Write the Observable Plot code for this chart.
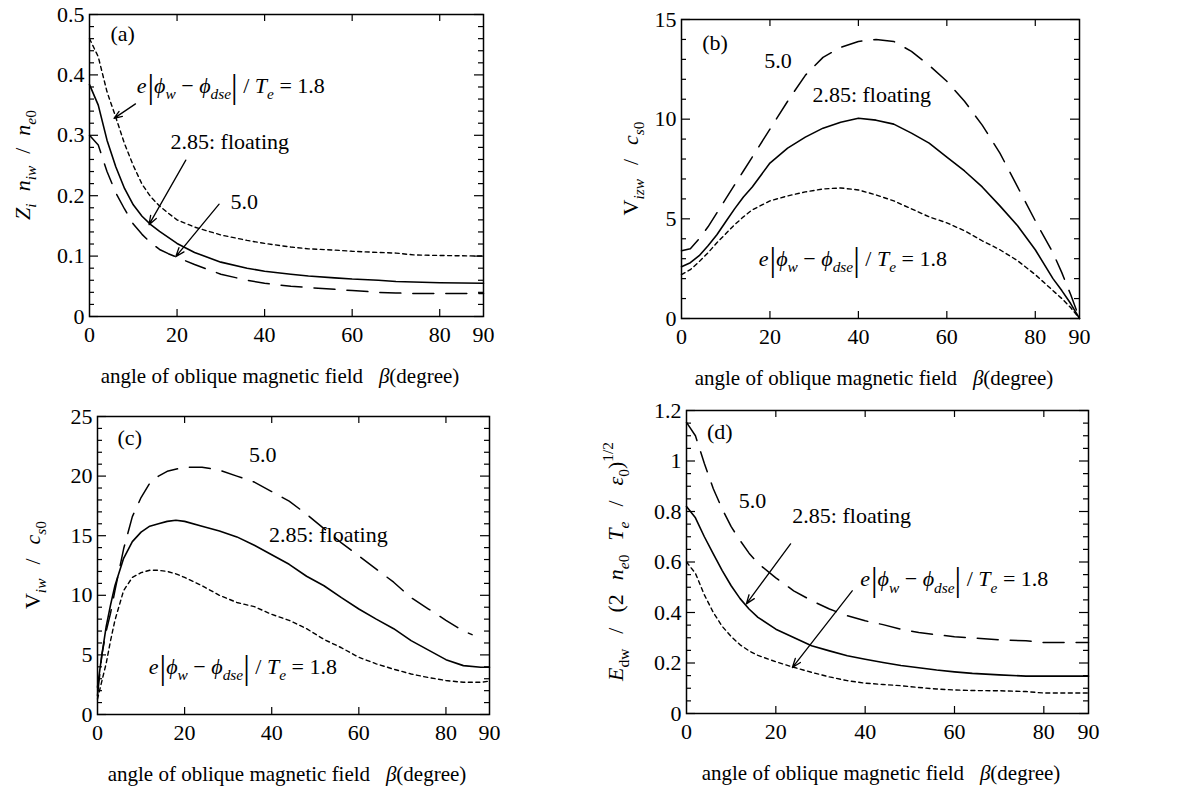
<!DOCTYPE html>
<html><head><meta charset="utf-8">
<script src="https://cdn.jsdelivr.net/npm/d3@7"></script>
<script src="https://cdn.jsdelivr.net/npm/@observablehq/plot@0.6"></script>
<style>
body{margin:0;background:#fff;}
#wrap{position:relative;width:1183px;height:796px;overflow:hidden;background:#fff;}
#wrap svg{position:absolute;}
#wrap svg text, #wrap svg tspan{font-family:"Liberation Serif","Tinos","Times New Roman","DejaVu Serif","Noto Serif",serif !important;}
</style></head><body><div id="wrap"></div>
<script>
// ---------- shared tick labels ----------
const xTickLabels = [0, 20, 40, 60, 80, 90];
const xInnerTicks = [20, 40, 60, 80];

// ---------- panel (a): Z_i n_iw / n_e0 ----------
const aX     = [0, 2, 4, 6, 8, 10, 12, 14, 16, 18, 20, 24, 30, 36, 40, 46, 50, 56, 60, 66, 70, 74, 80, 90];
const aFloat = [0.384, 0.350, 0.292, 0.248, 0.212, 0.185, 0.166, 0.152, 0.141, 0.131, 0.121, 0.106, 0.090, 0.080, 0.075, 0.070, 0.067, 0.064, 0.062, 0.060, 0.058, 0.057, 0.056, 0.055];
const aLow   = [0.460, 0.430, 0.372, 0.330, 0.286, 0.250, 0.219, 0.198, 0.183, 0.171, 0.160, 0.148, 0.135, 0.126, 0.121, 0.115, 0.112, 0.110, 0.108, 0.106, 0.105, 0.102, 0.101, 0.100];
const aHigh  = [0.300, 0.284, 0.240, 0.205, 0.178, 0.153, 0.136, 0.122, 0.111, 0.104, 0.098, 0.086, 0.070, 0.060, 0.055, 0.050, 0.048, 0.045, 0.043, 0.040, 0.039, 0.038, 0.038, 0.038];
const aYTicks = [0, 0.1, 0.2, 0.3, 0.4, 0.5];
const aNotes = [
  {x: 4.8, y: 0.468, text: "(a)"},
  {x: 18.5, y: 0.289, text: "2.85: floating"},
  {x: 32.2, y: 0.190, text: "5.0"}
];
const aArrows = [
  {x1: 10.5, y1: 0.352, x2: 5.6, y2: 0.328},
  {x1: 22.0, y1: 0.259, x2: 13.6, y2: 0.152},
  {x1: 29.6, y1: 0.186, x2: 19.7, y2: 0.099}
];
const aFormulaAt = {x: 10.9, y: 0.383};

// ---------- panel (b): V_izw / c_s0 ----------
const bX     = [0, 2, 4, 6, 8, 10, 12, 14, 16, 20, 24, 28, 32, 36, 40, 44, 48, 52, 56, 60, 64, 68, 72, 76, 80, 84, 86, 88, 90];
const bFloat = [2.6, 2.8, 3.15, 3.65, 4.2, 4.85, 5.5, 6.1, 6.6, 7.8, 8.55, 9.1, 9.55, 9.85, 10.05, 9.95, 9.75, 9.3, 8.8, 8.1, 7.4, 6.6, 5.65, 4.65, 3.45, 2.0, 1.4, 0.75, 0];
const bLow   = [2.2, 2.45, 2.85, 3.3, 3.8, 4.25, 4.7, 5.1, 5.45, 5.9, 6.15, 6.35, 6.5, 6.55, 6.45, 6.2, 5.9, 5.5, 5.1, 4.8, 4.4, 3.9, 3.45, 2.9, 2.2, 1.4, 1.0, 0.55, 0];
const bHigh  = [3.4, 3.5, 4.0, 4.6, 5.3, 6.0, 6.7, 7.4, 8.1, 9.5, 10.9, 12.2, 13.1, 13.6, 13.9, 14.0, 13.9, 13.4, 12.7, 11.9, 10.9, 9.7, 8.3, 6.6, 4.9, 3.3, 2.3, 1.2, 0];
const bYTicks = [0, 5, 10, 15];
const bNotes = [
  {x: 4.7, y: 13.8, text: "(b)"},
  {x: 18.7, y: 12.9, text: "5.0"},
  {x: 29.6, y: 11.2, text: "2.85: floating"}
];
const bArrows = [];
const bFormulaAt = {x: 17.6, y: 3.0};

// ---------- panel (c): V_iw / c_s0 ----------
const cX     = [0, 1, 2, 3, 4, 6, 8, 10, 12, 14, 16, 18, 20, 24, 28, 32, 36, 40, 44, 48, 52, 56, 60, 64, 68, 72, 76, 80, 84, 88, 90];
const cFloat = [2.3, 5.0, 7.4, 9.2, 10.8, 13.1, 14.5, 15.3, 15.8, 16.0, 16.2, 16.3, 16.2, 15.8, 15.4, 14.9, 14.2, 13.4, 12.6, 11.6, 10.8, 9.8, 8.85, 8.0, 7.2, 6.2, 5.4, 4.6, 4.1, 3.97, 3.97];
const cLow   = [1.3, 2.8, 4.3, 6.2, 7.9, 10.4, 11.5, 11.9, 12.1, 12.1, 12.0, 11.8, 11.5, 10.8, 10.0, 9.4, 9.05, 8.4, 7.9, 7.2, 6.3, 5.6, 4.8, 4.25, 3.8, 3.4, 3.1, 2.85, 2.7, 2.7, 2.8];
const cHighX = [0, 1, 2, 3, 4, 6, 8, 10, 12, 14, 16, 20, 24, 28, 32, 36, 40, 44, 48, 52, 56, 60, 64, 68, 72, 76, 80, 84, 86];
const cHigh  = [1.6, 5.0, 7.0, 8.5, 10.4, 13.9, 16.6, 18.2, 19.4, 20.0, 20.4, 20.75, 20.75, 20.5, 20.0, 19.5, 18.7, 17.9, 16.8, 15.6, 14.4, 13.3, 12.2, 11.1, 9.8, 8.85, 7.9, 7.0, 6.7];
const cYTicks = [0, 5, 10, 15, 20, 25];
const cNotes = [
  {x: 4.6, y: 23.2, text: "(c)"},
  {x: 34.8, y: 21.8, text: "5.0"},
  {x: 39.4, y: 15.1, text: "2.85: floating"}
];
const cArrows = [];
const cFormulaAt = {x: 11.9, y: 4.0};

// ---------- panel (d): E_dw / (2 n_e0 T_e / eps0)^1/2 ----------
const dX     = [0, 2, 4, 6, 8, 10, 12, 14, 16, 20, 24, 28, 32, 36, 40, 44, 48, 52, 56, 60, 64, 70, 76, 80, 90];
const dFloat = [0.820, 0.775, 0.700, 0.632, 0.566, 0.506, 0.455, 0.414, 0.381, 0.334, 0.301, 0.268, 0.248, 0.229, 0.215, 0.202, 0.190, 0.181, 0.172, 0.165, 0.159, 0.153, 0.148, 0.148, 0.148];
const dLow   = [0.600, 0.555, 0.470, 0.400, 0.345, 0.305, 0.272, 0.248, 0.230, 0.205, 0.183, 0.163, 0.145, 0.130, 0.120, 0.115, 0.110, 0.103, 0.097, 0.093, 0.091, 0.090, 0.087, 0.081, 0.081];
const dHigh  = [1.153, 1.100, 0.990, 0.890, 0.810, 0.740, 0.685, 0.635, 0.595, 0.537, 0.486, 0.447, 0.414, 0.387, 0.367, 0.352, 0.334, 0.321, 0.312, 0.304, 0.299, 0.292, 0.288, 0.281, 0.281];
const dYTicks = [0, 0.2, 0.4, 0.6, 0.8, 1, 1.2];
const dNotes = [
  {x: 4.6, y: 1.114, text: "(d)"},
  {x: 11.7, y: 0.843, text: "5.0"},
  {x: 23.7, y: 0.784, text: "2.85: floating"}
];
const dArrows = [
  {x1: 23.3, y1: 0.672, x2: 13.4, y2: 0.434},
  {x1: 37.1, y1: 0.486, x2: 23.7, y2: 0.182}
];
const dFormulaAt = {x: 39.0, y: 0.533};

// ---------- rich-text pieces ----------
const formulaParts = [
  {t: "e", i: 1},
  {t: "|", k: 1.5, b: 5, dx: 1},
  {t: "ϕ", i: 1},
  {t: "w", i: 1, s: "sub"},
  {t: " − "},
  {t: "ϕ", i: 1},
  {t: "dse", i: 1, s: "sub"},
  {t: "|", k: 1.5, b: 5},
  {t: " / "},
  {t: "T", i: 1},
  {t: "e", i: 1, s: "sub"},
  {t: " = 1.8"}
];
const xLabelParts = [{t: "angle of oblique magnetic field   "}, {t: "β", i: 1}, {t: "(degree)"}];
const aYLabel = [{t: "Z", i: 1}, {t: "i", i: 1, s: "sub"}, {t: "n", i: 1, dx: 12}, {t: "iw", i: 1, s: "sub"}, {t: "/", dx: 12}, {t: "n", i: 1, dx: 12}, {t: "e", i: 1, s: "sub"}, {t: "0", s: "sub"}];
const bYLabel = [{t: "V"}, {t: "izw", i: 1, s: "sub"}, {t: "/", dx: 14}, {t: "c", i: 1, dx: 14}, {t: "s", i: 1, s: "sub"}, {t: "0", s: "sub"}];
const cYLabel = [{t: "V"}, {t: "iw", i: 1, s: "sub"}, {t: "/", dx: 14}, {t: "c", i: 1, dx: 14}, {t: "s", i: 1, s: "sub"}, {t: "0", s: "sub"}];
const dYLabel = [{t: "E", i: 1}, {t: "dw", s: "sub"}, {t: "/", dx: 15}, {t: "(2", dx: 15}, {t: "n", i: 1, dx: 14}, {t: "e", i: 1, s: "sub"}, {t: "0", s: "sub"}, {t: "T", i: 1, dx: 14}, {t: "e", i: 1, s: "sub"}, {t: "/", dx: 15}, {t: "ε", i: 1, dx: 15}, {t: "0", s: "sub"}, {t: ")"}, {t: "1/2", s: "sup"}];

const FONT = '"Liberation Serif", "Tinos", "Times New Roman", "DejaVu Serif", serif';
const FS = 22;

function rich(textSel, parts, fs) {
  let shift = 0;
  for (const p of parts) {
    let size = fs * (p.k || 1);
    let target = p.b || 0;
    if (p.s === "sub") { size = fs * 0.7; target = fs * 0.28; }
    if (p.s === "sup") { size = fs * 0.7; target = -fs * 0.45; }
    const ts = textSel.append("tspan").text(p.t)
      .attr("font-size", size)
      .attr("dy", target - shift);
    if (p.i) ts.attr("font-style", "italic");
    if (p.dx) ts.attr("dx", p.dx);
    shift = target;
  }
}

const panels = [
  {box: [0, 0, 590, 395], frame: [89, 14, 483, 316], ymax: 0.5, minor: 0.02, yTicks: aYTicks,
   x: aX, float: aFloat, low: aLow, highX: aX, high: aHigh, notes: aNotes, arrows: aArrows,
   formulaAt: aFormulaAt, yLabel: aYLabel, yLabelX: 30},
  {box: [590, 0, 593, 395], frame: [681, 19, 1079, 318], ymax: 15, minor: 1, yTicks: bYTicks,
   x: bX, float: bFloat, low: bLow, highX: bX, high: bHigh, notes: bNotes, arrows: bArrows,
   formulaAt: bFormulaAt, yLabel: bYLabel, yLabelX: 48},
  {box: [0, 395, 590, 401], frame: [97, 416, 489, 714], ymax: 25, minor: 1, yTicks: cYTicks,
   x: cX, float: cFloat, low: cLow, highX: cHighX, high: cHigh, notes: cNotes, arrows: cArrows,
   formulaAt: cFormulaAt, yLabel: cYLabel, yLabelX: 40},
  {box: [590, 395, 593, 401], frame: [686, 410, 1088, 713], ymax: 1.2, minor: 0.05, yTicks: dYTicks,
   x: dX, float: dFloat, low: dLow, highX: dX, high: dHigh, notes: dNotes, arrows: dArrows,
   formulaAt: dFormulaAt, yLabel: dYLabel, yLabelX: 33}
];

const wrap = document.getElementById("wrap");
const rows = (xs, ys) => xs.map((x, i) => ({x, y: ys[i]}));

for (const cfg of panels) {
  const [L, T, W, H] = cfg.box;
  const [X0, Y0, X1, Y1] = cfg.frame;
  const mL = X0 - L, mT = Y0 - T, mR = L + W - X1, mB = T + H - Y1;
  const ux = 90 / (X1 - X0), uy = cfg.ymax / (Y1 - Y0);
  const minorTicks = d3.range(0, cfg.ymax + 1e-9, cfg.minor)
    .filter(v => !cfg.yTicks.some(t => Math.abs(t - v) < 1e-6));
  const tickStyle = {stroke: "black", strokeWidth: 1.2};
  const plot = Plot.plot({
    width: W, height: H,
    marginLeft: mL, marginRight: mR, marginTop: mT, marginBottom: mB,
    style: {fontFamily: FONT, fontSize: FS + "px", color: "black", background: "transparent", overflow: "visible"},
    x: {domain: [0, 90]},
    y: {domain: [0, cfg.ymax]},
    marks: [
      Plot.axisX({ticks: xTickLabels, tickSize: 0, tickPadding: 10, tickFormat: d => String(d), label: null, fontSize: FS}),
      Plot.axisY({ticks: cfg.yTicks, tickSize: 0, tickPadding: 5, tickFormat: d => String(d), label: null, fontSize: FS}),
      // inward ticks
      Plot.ruleY(cfg.yTicks, {y: d => d, x1: 0, x2: 9 * ux, ...tickStyle}),
      Plot.ruleY(cfg.yTicks, {y: d => d, x1: 90 - 9 * ux, x2: 90, ...tickStyle}),
      Plot.ruleY(minorTicks, {y: d => d, x1: 0, x2: 5 * ux, ...tickStyle}),
      Plot.ruleY(minorTicks, {y: d => d, x1: 90 - 5 * ux, x2: 90, ...tickStyle}),
      Plot.ruleX(xInnerTicks, {x: d => d, y1: 0, y2: 7 * uy, ...tickStyle}),
      Plot.ruleX(xInnerTicks, {x: d => d, y1: cfg.ymax - 7 * uy, y2: cfg.ymax, ...tickStyle}),
      // curves
      Plot.line(rows(cfg.x, cfg.low), {x: "x", y: "y", stroke: "black", strokeWidth: 1.4, strokeDasharray: "4,3.5"}),
      Plot.line(rows(cfg.x, cfg.float), {x: "x", y: "y", stroke: "black", strokeWidth: 1.6}),
      Plot.line(rows(cfg.highX, cfg.high), {x: "x", y: "y", stroke: "black", strokeWidth: 1.5, strokeDasharray: "21,12"}),
      // annotations
      Plot.text(cfg.notes, {x: "x", y: "y", text: "text", textAnchor: "start", fontSize: FS, fill: "black"}),
      Plot.arrow(cfg.arrows, {x1: "x1", y1: "y1", x2: "x2", y2: "y2", stroke: "black", strokeWidth: 1.3, headLength: 11, headAngle: 40}),
      Plot.frame({stroke: "black", strokeWidth: 1.5})
    ]
  });
  plot.style.left = L + "px";
  plot.style.top = T + "px";
  wrap.appendChild(plot);

  const svg = d3.select(plot);
  const sx = plot.scale("x"), sy = plot.scale("y");
  // formula
  const f = svg.append("text")
    .attr("x", sx.apply(cfg.formulaAt.x))
    .attr("y", sy.apply(cfg.formulaAt.y) + 8)
    .attr("text-anchor", "start")
    .attr("fill", "black")
    .style("white-space", "pre");
  rich(f, formulaParts, FS);
  // x label
  const xl = svg.append("text")
    .attr("x", mL + (X1 - X0) / 2 - 6)
    .attr("y", H - mB + 67)
    .attr("text-anchor", "middle")
    .attr("fill", "black")
    .style("white-space", "pre");
  rich(xl, xLabelParts, 21);
  // y label
  const yl = svg.append("text")
    .attr("transform", `translate(${cfg.yLabelX},${mT + (Y1 - Y0) / 2}) rotate(-90)`)
    .attr("text-anchor", "middle")
    .attr("fill", "black")
    .style("white-space", "pre");
  rich(yl, cfg.yLabel, FS);
}
</script>
</body></html>
